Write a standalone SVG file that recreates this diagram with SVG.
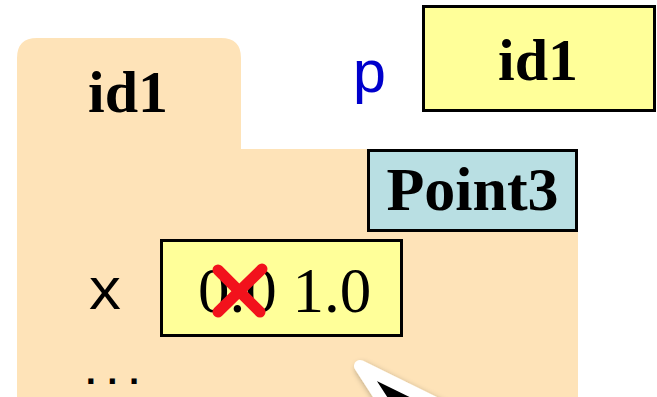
<svg xmlns="http://www.w3.org/2000/svg" width="657" height="397" viewBox="0 0 657 397">
<style>
.folder{fill:#fee3b8}
.box{stroke:#000;stroke-width:3}
.yellow{fill:#ffff99}
.blue{fill:#b9dfe3}
.bold{font-family:"Liberation Serif","Times New Roman",serif;font-weight:bold;fill:#000}
.serif{font-family:"Liberation Serif","Times New Roman",serif;fill:#000}
.mono{font-family:"Liberation Mono","Courier New",monospace}
.cross{stroke:#f2121c;stroke-width:11;stroke-linecap:round}
</style>
<defs>
<filter id="shadow" x="-30%" y="-30%" width="160%" height="160%">
<feGaussianBlur in="SourceAlpha" stdDeviation="3"/>
<feOffset dx="2" dy="3"/>
<feComponentTransfer><feFuncA type="linear" slope="0.35"/></feComponentTransfer>
<feMerge><feMergeNode/><feMergeNode in="SourceGraphic"/></feMerge>
</filter>
</defs>
<g id="folder-id1">
<path class="folder" d="M17,58 Q17,38 37,38 L221,38 Q241,38 241,58 L241,149 L578,149 L578,410 L17,410 Z"/>
<text class="bold" x="128" y="112" font-size="60" text-anchor="middle">id1</text>
</g>
<g id="var-p">
<text class="mono" x="369.5" y="92" font-size="60" fill="#0000cc" text-anchor="middle">p</text>
<rect class="box yellow" x="423.5" y="6.5" width="231" height="104"/>
<text class="bold" x="538" y="80" font-size="60" text-anchor="middle">id1</text>
</g>
<g id="class-point3">
<rect class="box blue" x="368.5" y="150.5" width="208" height="80"/>
<text class="bold" x="472.5" y="210" font-size="62" text-anchor="middle">Point3</text>
</g>
<g id="field-x">
<text class="mono" x="105" y="309" font-size="60" fill="#000" text-anchor="middle">x</text>
<rect class="box yellow" x="161.5" y="240.5" width="240" height="95"/>
<text class="serif" x="198" y="312" font-size="63">0.0 1.0</text>
<line class="cross" x1="218" y1="270" x2="260" y2="312"/>
<line class="cross" x1="262" y1="269" x2="218" y2="312"/>
</g>
<g id="field-more">
<text class="mono" x="80" y="384" font-size="36" font-weight="bold" fill="#000">...</text>
</g>
<g id="connectors">
<g id="cursor" filter="url(#shadow)">
<polygon points="360,366 470,420 395,420" fill="#000" stroke="#fff" stroke-width="12" stroke-linejoin="round"/>
</g>
</g>
</svg>
